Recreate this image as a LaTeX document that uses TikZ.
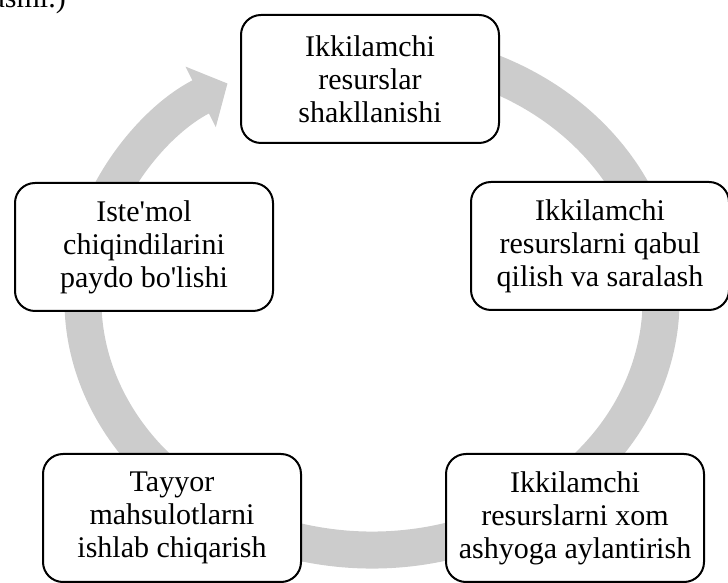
\documentclass[tikz,border=0pt]{standalone}
\usepackage{fontspec}
\setmainfont{Liberation Serif}
\usepackage{tikz}
\usetikzlibrary{arrows.meta,positioning}

\begin{document}
\begin{tikzpicture}[x=1pt,y=1pt,
        block/.style={draw,rounded corners=20pt,line width=2pt,fill=white,
          minimum width=258pt,minimum height=128pt,align=center,
          font=\fontsize{30}{33}\selectfont},
        ring/.style={line width=37pt,color=black!20,
          -{Triangle[length=30pt,width=66pt]}}]
   \useasboundingbox (0,0) rectangle (728,583);
   \node[anchor=base east,inner sep=0pt,font=\fontsize{30}{33}\selectfont] (cap) at (66,575) {rasmi.)};

   \draw[ring] (372,283) ++(75:289 and 250) arc[start angle=75,end angle=-240,x radius=289,y radius=250];

   \node[block] (A) at (370,504) {Ikkilamchi\\resurslar\\shakllanishi};
   \node[block] (B) at (600,337) {Ikkilamchi\\resurslarni qabul\\qilish va saralash};
   \node[block] (C) at (575,65) {Ikkilamchi\\resurslarni xom\\ashyoga aylantirish};
   \node[block] (D) at (172,65) {Tayyor\\mahsulotlarni\\ishlab chiqarish};
   \node[block] (E) at (144,336) {Iste\textquotesingle mol\\chiqindilarini\\paydo bo\textquotesingle lishi};

\end{tikzpicture}
\end{document}
